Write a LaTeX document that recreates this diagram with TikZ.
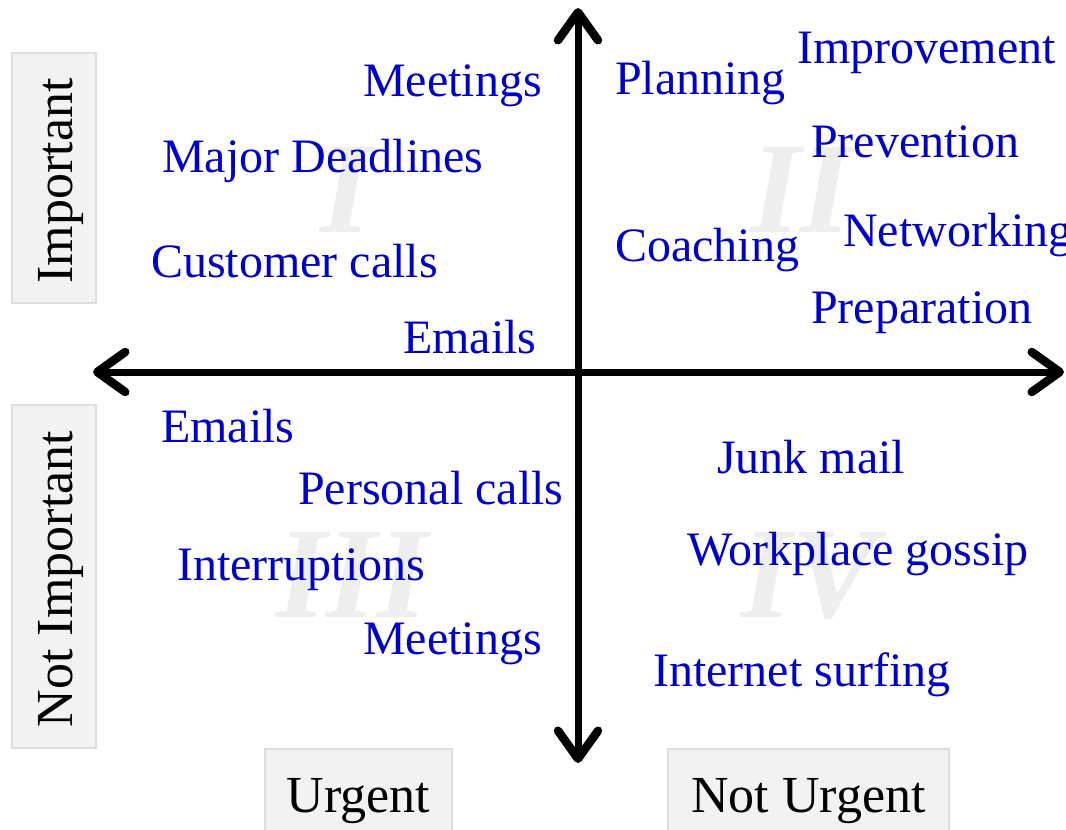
\documentclass[tikz,border=0pt]{standalone}
\usepackage{fontspec}
\setmainfont{Liberation Serif}
\usetikzlibrary{arrows.meta}
\definecolor{itemblue}{RGB}{0,0,204}
\definecolor{boxfill}{RGB}{242,242,242}
\definecolor{boxline}{RGB}{221,221,221}
\definecolor{numeral}{RGB}{238,238,238}
\begin{document}
\begin{tikzpicture}[x=1pt,y=-1pt,
  item/.style={text=itemblue, font=\fontsize{48}{56}\selectfont, anchor=base west, inner sep=0pt},
  tag/.style={font=\fontsize{52}{60}\selectfont, inner sep=0pt, anchor=base},
  tagbox/.style={draw=boxline, fill=boxfill, line width=1.5pt, inner sep=0pt},
  quad/.style={text=numeral, font=\fontsize{130}{140}\selectfont\bfseries\itshape, inner sep=0pt},
  axis/.style={line width=7pt,
    {Straight Barb[length=28pt,width=40pt,line width=8.5pt,round]}-{Straight Barb[length=28pt,width=40pt,line width=8.5pt,round]}}
]
\useasboundingbox (0,0) rectangle (1066,830);

% quadrant numerals in the background
\node[quad] (q1) at (346,190) {I};
\node[quad] (q2) at (801,190) {II};
\node[quad] (q3) at (352,575) {III};
\node[quad] (q4) at (810,576) {IV};

% axis label boxes
\node[tagbox, minimum width=84pt, minimum height=250pt] (impbox) at (54,178) {};
\node[tag, rotate=90] (imp) at (72,181) {Important};
\node[tagbox, minimum width=84pt, minimum height=343pt] (nimpbox) at (54,576.5) {};
\node[tag, rotate=90] (nimp) at (72,579) {Not Important};
\node[tagbox, minimum width=187pt, minimum height=110pt] (urgbox) at (358.5,804) {};
\node[tag] (urg) at (358.5,812) {Urgent};
\node[tagbox, minimum width=281pt, minimum height=110pt] (nurgbox) at (808.5,804) {};
\node[tag] (nurg) at (808.5,812) {Not Urgent};

% axes
\coordinate (L) at (93,372);
\coordinate (R) at (1064,372);
\coordinate (T) at (578,8);
\coordinate (B) at (578,763);
\draw[axis] (L) -- (R);
\draw[axis] (B) -- (T);

% quadrant I: urgent and important
\node[item] (a1) at (363,96) {Meetings};
\node[item] (a2) at (162,172) {Major Deadlines};
\node[item] (a3) at (151,277) {Customer calls};
\node[item] (a4) at (403,353) {Emails};

% quadrant II: not urgent but important
\node[item] (b1) at (615,94) {Planning};
\node[item] (b2) at (797,63) {Improvement};
\node[item] (b3) at (811,157) {Prevention};
\node[item] (b4) at (615,261) {Coaching};
\node[item] (b5) at (843,246) {Networking};
\node[item] (b6) at (811,323) {Preparation};

% quadrant III: urgent but not important
\node[item] (c1) at (161,442) {Emails};
\node[item] (c2) at (298,504) {Personal calls};
\node[item] (c3) at (177,580) {Interruptions};
\node[item] (c4) at (363,654) {Meetings};

% quadrant IV: neither urgent nor important
\node[item] (d1) at (717,473) {Junk mail};
\node[item] (d2) at (687,565) {Workplace gossip};
\node[item] (d3) at (653,686) {Internet surfing};
\end{tikzpicture}
\end{document}
